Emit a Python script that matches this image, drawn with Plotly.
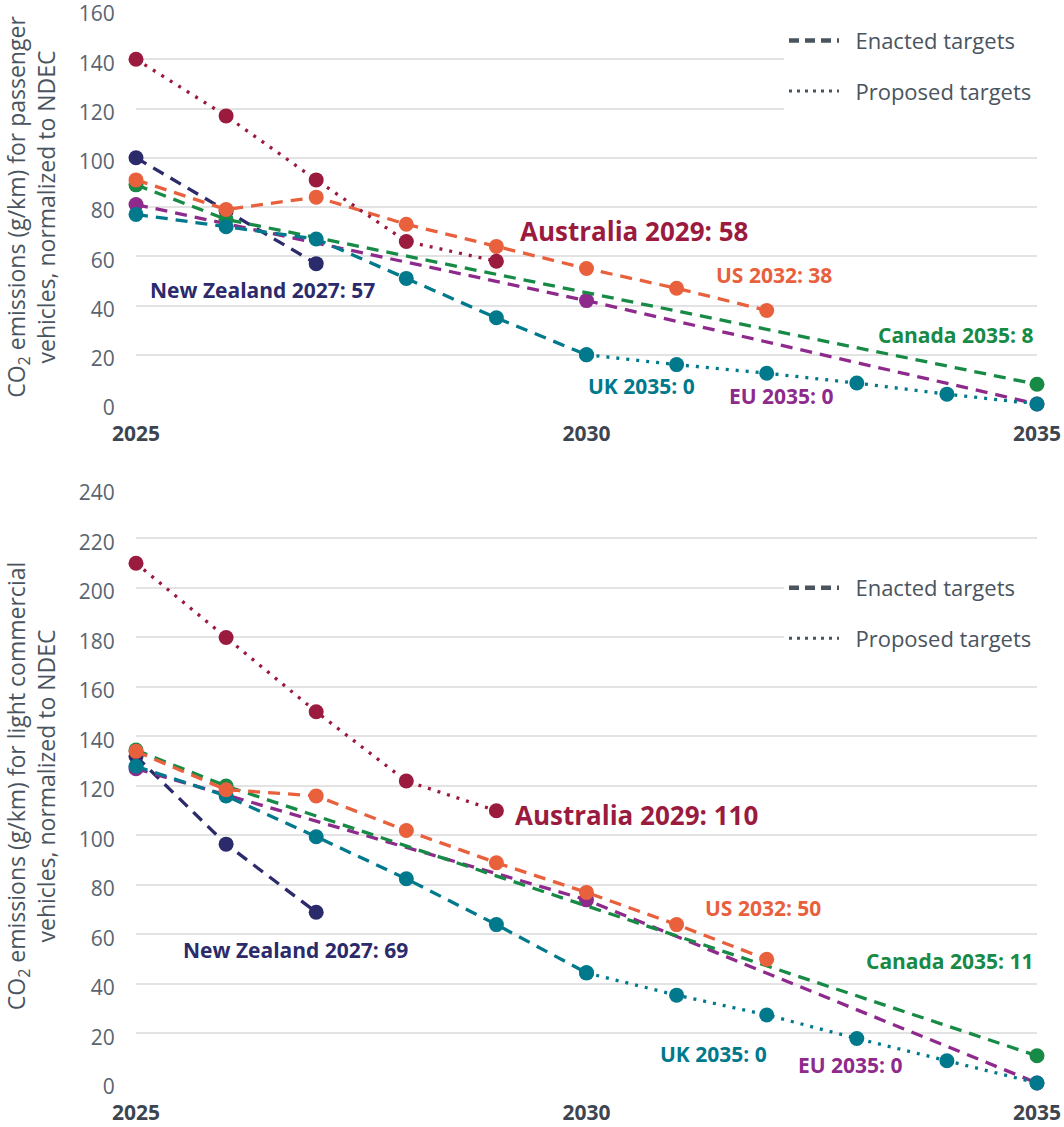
import plotly.graph_objects as go

# ---------------- DATA ----------------
# Passenger vehicles (top panel)
au_pv_years = [2025, 2026, 2027, 2028, 2029]
au_pv = [140, 117, 91, 66, 58]
nz_pv_years = [2025, 2026, 2027]
nz_pv = [100, 78.5, 57]
us_pv_years = [2025, 2026, 2027, 2028, 2029, 2030, 2031, 2032]
us_pv = [91, 79, 84, 73, 64, 55, 47, 38]
ca_pv_years = [2025, 2026, 2035]
ca_pv = [89, 75, 8]
eu_pv_years = [2025, 2030, 2035]
eu_pv = [81, 42, 0]
uk_pv_enacted_years = [2025, 2026, 2027, 2028, 2029, 2030]
uk_pv_enacted = [77, 72, 67, 51, 35, 20]
uk_pv_proposed_years = [2030, 2031, 2032, 2033, 2034, 2035]
uk_pv_proposed = [20, 16, 12.5, 8.5, 4, 0]

# Light commercial vehicles (bottom panel)
au_lcv_years = [2025, 2026, 2027, 2028, 2029]
au_lcv = [210, 180, 150, 122, 110]
nz_lcv_years = [2025, 2026, 2027]
nz_lcv = [132, 96.5, 69]
us_lcv_years = [2025, 2026, 2027, 2028, 2029, 2030, 2031, 2032]
us_lcv = [134, 118.5, 116, 102, 89, 77, 64, 50]
ca_lcv_years = [2025, 2026, 2035]
ca_lcv = [134.5, 120, 11]
eu_lcv_years = [2025, 2030, 2035]
eu_lcv = [127, 74, 0]
uk_lcv_enacted_years = [2025, 2026, 2027, 2028, 2029, 2030]
uk_lcv_enacted = [128, 116, 99.5, 82.5, 64, 44.5]
uk_lcv_proposed_years = [2030, 2031, 2032, 2033, 2034, 2035]
uk_lcv_proposed = [44.5, 35.5, 27.5, 18, 9, 0]

x_ticks = [2025, 2030, 2035]
pv_y_ticks = [0, 20, 40, 60, 80, 100, 120, 140, 160]
lcv_y_ticks = [0, 20, 40, 60, 80, 100, 120, 140, 160, 180, 200, 220, 240]

# labels: (text, x, y, colour key, size, xanchor)
pv_labels = [
    ("New Zealand 2027: 57", 2026.40, 46.3, "nz", 21, "center"),
    ("Australia 2029: 58", 2030.53, 70.2, "au", 26, "center"),
    ("US 2032: 38", 2032.08, 52.4, "us", 21, "center"),
    ("Canada 2035: 8", 2034.98, 28.1, "ca", 21, "right"),
    ("UK 2035: 0", 2030.61, 7.5, "uk", 21, "center"),
    ("EU 2035: 0", 2032.16, 3.4, "eu", 21, "center"),
]
lcv_labels = [
    ("Australia 2029: 110", 2030.56, 108.4, "au", 26, "center"),
    ("New Zealand 2027: 69", 2026.77, 53.9, "nz", 21, "center"),
    ("US 2032: 50", 2031.96, 70.7, "us", 21, "center"),
    ("Canada 2035: 11", 2034.98, 49.1, "ca", 21, "right"),
    ("UK 2035: 0", 2031.41, 11.8, "uk", 21, "center"),
    ("EU 2035: 0", 2032.93, 7.4, "eu", 21, "center"),
]

# ---------------- STYLE ----------------
COL = {
    "au": "#9b1b3f",
    "nz": "#2b2a6b",
    "us": "#e8603c",
    "ca": "#178a45",
    "eu": "#8e2a8c",
    "uk": "#00798c",
}
DASH = "12px,8px"
DOT = "3px,7px"
FONT = "Open Sans"
GRAY = "#4a545e"

fig = go.Figure()


def add_series(xs, ys, key, dash, xa, ya, width=3.3):
    fig.add_trace(go.Scatter(
        x=xs, y=ys, mode="lines+markers", xaxis=xa, yaxis=ya,
        line=dict(color=COL[key], width=width, dash=dash),
        marker=dict(color=COL[key], size=15),
        cliponaxis=False, showlegend=False, hoverinfo="x+y",
    ))


def panel(xa, ya, d):
    add_series(d["nz"][0], d["nz"][1], "nz", DASH, xa, ya)
    add_series(d["eu"][0], d["eu"][1], "eu", DASH, xa, ya)
    add_series(d["ca"][0], d["ca"][1], "ca", DASH, xa, ya)
    add_series(d["uke"][0], d["uke"][1], "uk", DASH, xa, ya)
    add_series(d["ukp"][0], d["ukp"][1], "uk", DOT, xa, ya)
    add_series(d["us"][0], d["us"][1], "us", DASH, xa, ya)
    add_series(d["au"][0], d["au"][1], "au", DOT, xa, ya)


panel("x", "y", dict(
    nz=(nz_pv_years, nz_pv), eu=(eu_pv_years, eu_pv), ca=(ca_pv_years, ca_pv),
    uke=(uk_pv_enacted_years, uk_pv_enacted), ukp=(uk_pv_proposed_years, uk_pv_proposed),
    us=(us_pv_years, us_pv), au=(au_pv_years, au_pv)))
panel("x2", "y2", dict(
    nz=(nz_lcv_years, nz_lcv), eu=(eu_lcv_years, eu_lcv), ca=(ca_lcv_years, ca_lcv),
    uke=(uk_lcv_enacted_years, uk_lcv_enacted), ukp=(uk_lcv_proposed_years, uk_lcv_proposed),
    us=(us_lcv_years, us_lcv), au=(au_lcv_years, au_lcv)))

# legend entries (one legend per panel)
NB = "\u00a0\u00a0"
for lg, xa, ya in (("legend", "x", "y"), ("legend2", "x2", "y2")):
    fig.add_trace(go.Scatter(
        x=[None], y=[None], mode="lines", xaxis=xa, yaxis=ya, name=NB + "Enacted targets",
        line=dict(color=GRAY, width=4.5, dash="10px,6px"), legend=lg, legendgroup=lg + "a"))
    fig.add_trace(go.Scatter(
        x=[None], y=[None], mode="lines", xaxis=xa, yaxis=ya, name=NB + "Proposed targets",
        line=dict(color=GRAY, width=3, dash="3px,5px"), legend=lg, legendgroup=lg + "b"))

annotations = []
for labels, xr, yr in ((pv_labels, "x", "y"), (lcv_labels, "x2", "y2")):
    for text, lx, ly, key, sz, xanc in labels:
        annotations.append(dict(
            text="<b>%s</b>" % text, x=lx, y=ly, xref=xr, yref=yr,
            xanchor=xanc, yanchor="middle", showarrow=False,
            font=dict(family=FONT, size=sz, color=COL[key])))

axis_common = dict(
    showline=False, zeroline=False, showgrid=True, gridcolor="#e3e3e3", gridwidth=1.5,
    automargin=False, ticks="outside", ticklen=16, tickcolor="rgba(0,0,0,0)",
    tickfont=dict(family=FONT, size=21, color="#5a6470"), ticklabelshift=4,
    ticklabeloverflow="allow",
)
xaxis_common = dict(
    range=[2025, 2035], tickvals=x_ticks, ticktext=["<b>%d</b>" % v for v in x_ticks],
    showgrid=False, zeroline=False, showline=False, automargin=False,
    ticks="outside", ticklen=11, tickcolor="rgba(0,0,0,0)",
    tickfont=dict(family=FONT, size=21, color="#3d4650"),
    ticklabeloverflow="allow",
)

legend_common = dict(
    bgcolor="white", font=dict(family=FONT, size=22, color=GRAY),
    xanchor="right", x=1.0, yanchor="top", tracegroupgap=19,
    traceorder="grouped", itemwidth=50,
)

fig.update_layout(
    width=1064, height=1127,
    margin=dict(l=136, r=27, t=10, b=44, autoexpand=False),
    paper_bgcolor="white", plot_bgcolor="white",
    font=dict(family=FONT, color=GRAY),
    xaxis=dict(domain=[0, 1], anchor="y", **xaxis_common),
    xaxis2=dict(domain=[0, 1], anchor="y2", **xaxis_common),
    yaxis=dict(domain=[0.6328, 1.0], anchor="x", range=[0, 160], tickvals=pv_y_ticks,
               title=dict(text="CO<sub>2</sub> emissions (g/km) for passenger<br>vehicles, normalized to NDEC",
                          font=dict(family=FONT, size=23, color=GRAY), standoff=19),
               **axis_common),
    yaxis2=dict(domain=[0.0, 0.5536], anchor="x2", range=[0, 240], tickvals=lcv_y_ticks,
                title=dict(text="CO<sub>2</sub> emissions (g/km) for light commercial<br>vehicles, normalized to NDEC",
                           font=dict(family=FONT, size=23, color=GRAY), standoff=19),
                **axis_common),
    legend=dict(y=0.991, **legend_common),
    legend2=dict(y=0.481, **legend_common),
    annotations=annotations,
    showlegend=True,
)

fig.write_html("out.html", config={"displayModeBar": False},
               post_script="document.body.style.margin='0';document.body.style.padding='0';")
